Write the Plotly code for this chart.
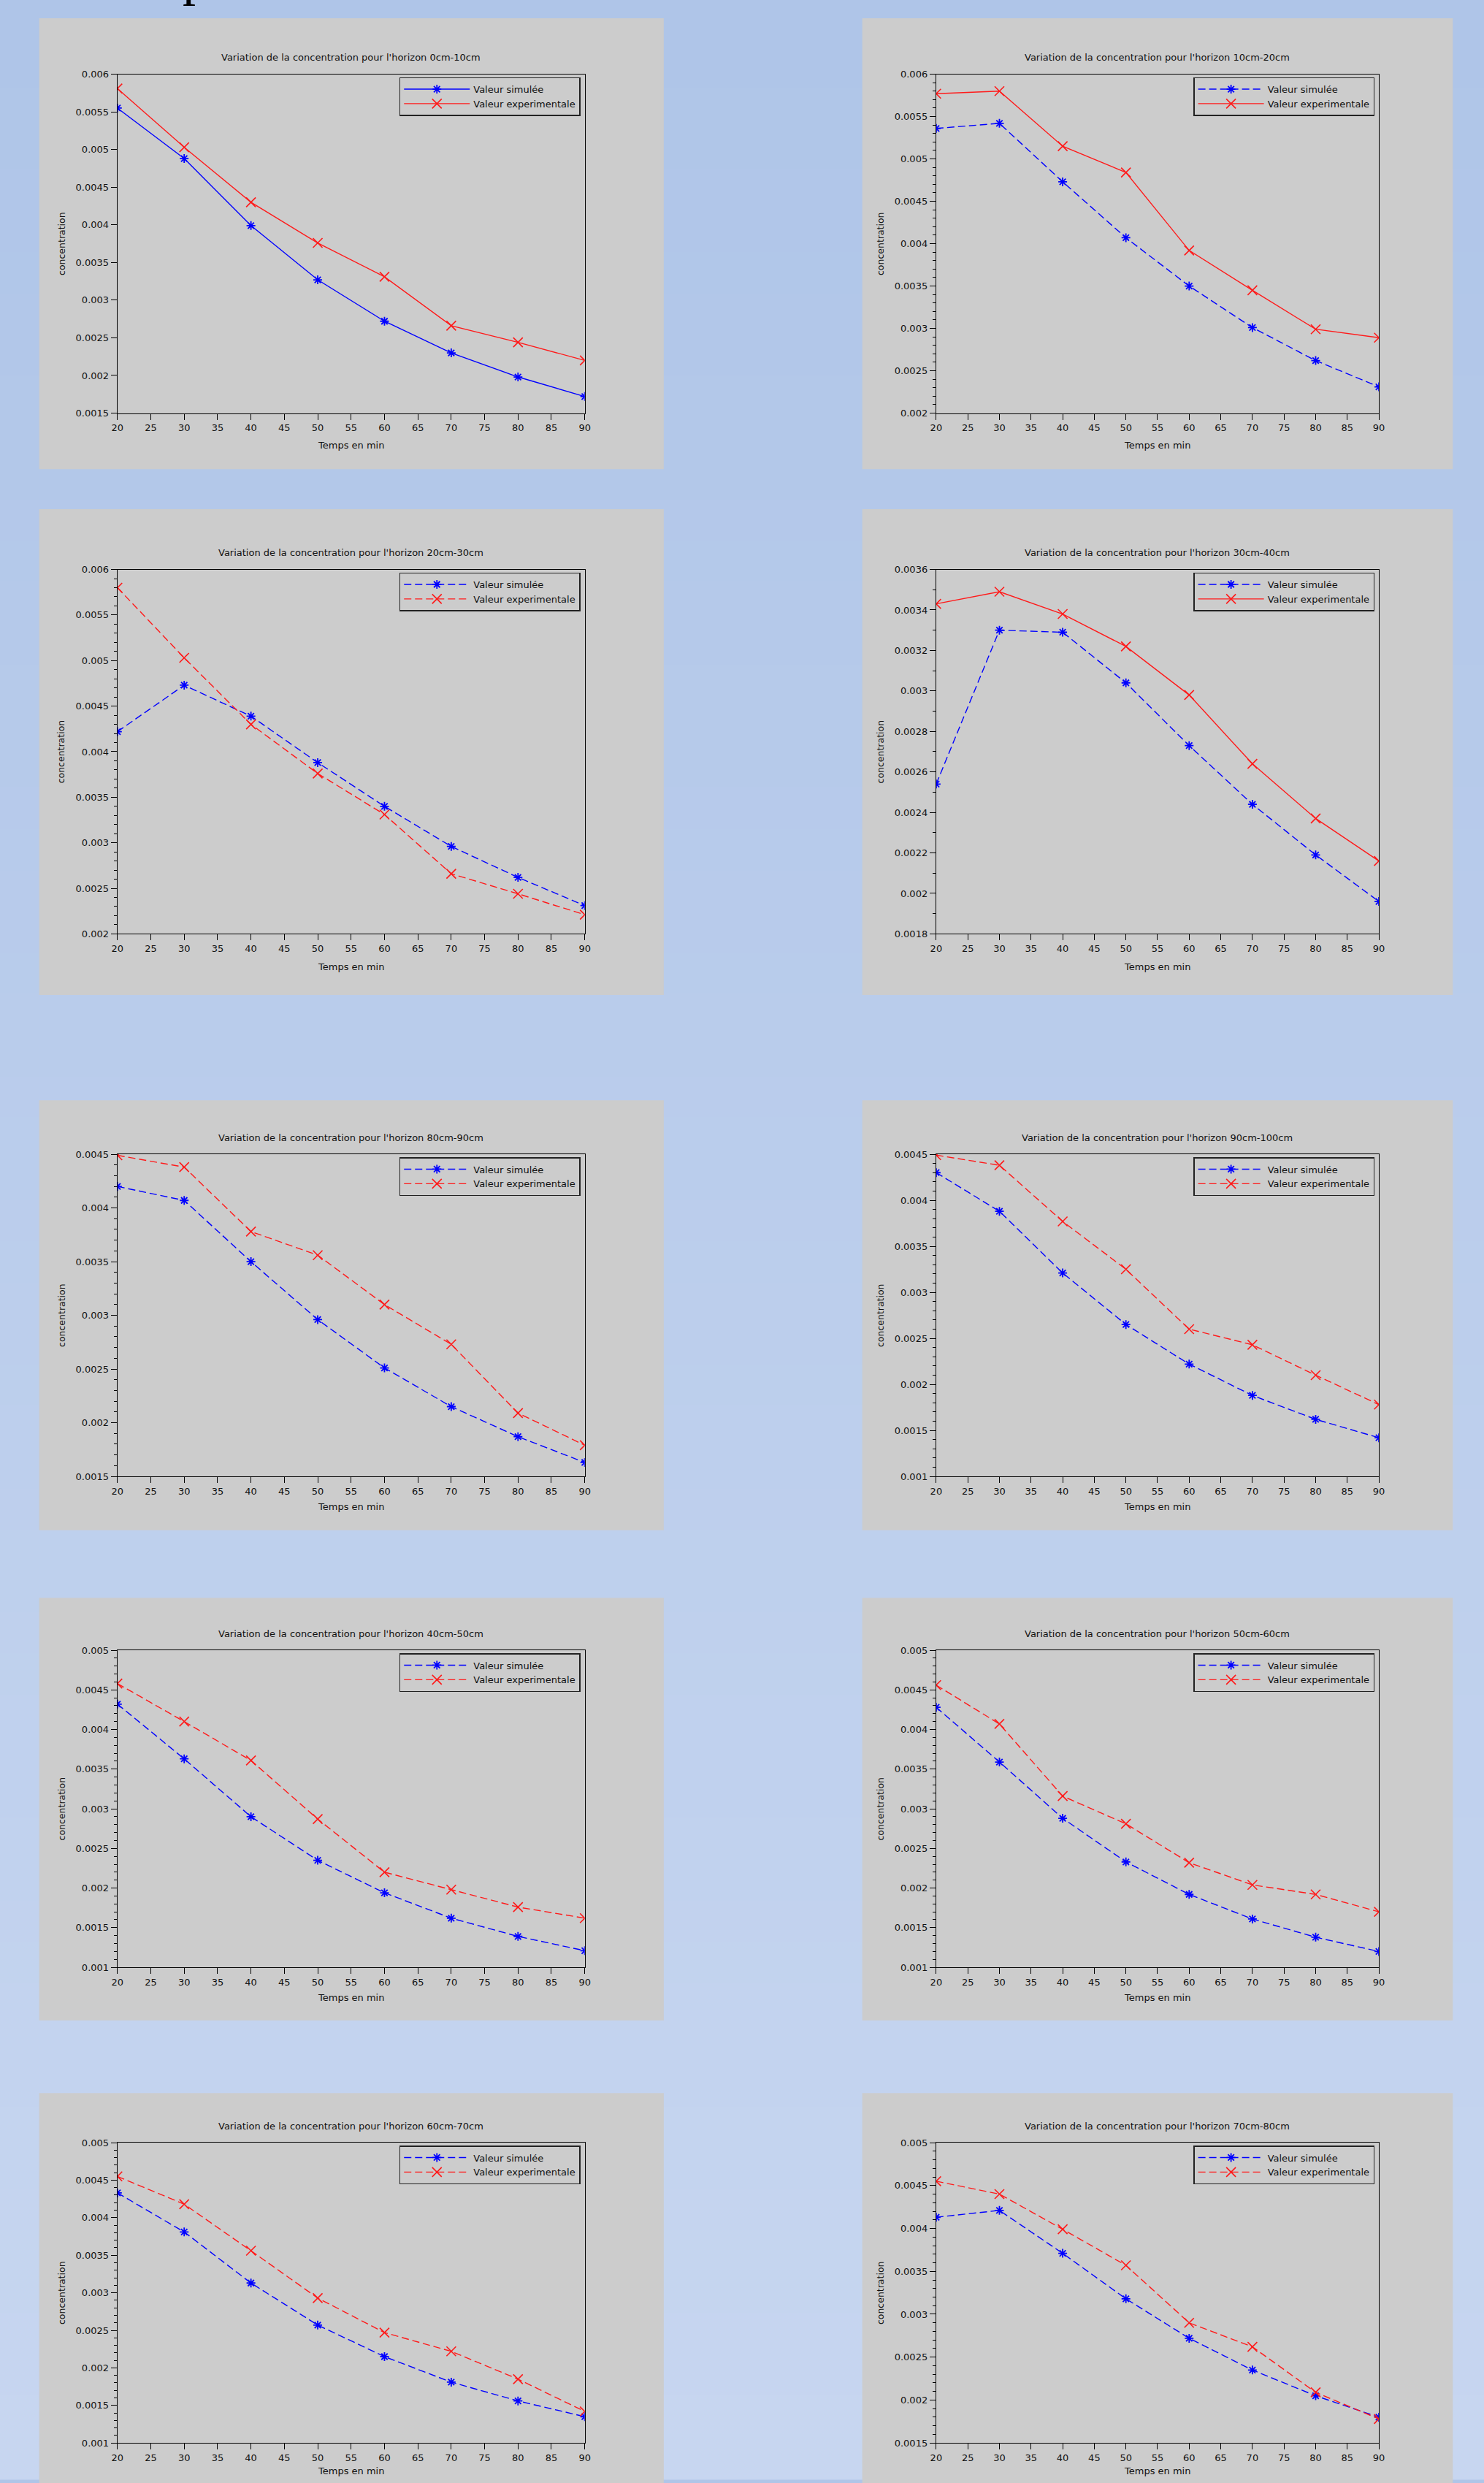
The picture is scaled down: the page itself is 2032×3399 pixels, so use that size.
import plotly.graph_objects as go

W, H = 2032, 3399

# ---------------- data ----------------
minutes = [20, 30, 40, 50, 60, 70, 80, 90]

horizons = ["0cm-10cm", "10cm-20cm", "20cm-30cm", "30cm-40cm", "80cm-90cm",
            "90cm-100cm", "40cm-50cm", "50cm-60cm", "60cm-70cm", "70cm-80cm"]

sim_0_10 = [0.00555, 0.00488, 0.00399, 0.00327, 0.00272, 0.00230, 0.00198, 0.00172]
exp_0_10 = [0.00581, 0.00503, 0.00430, 0.00376, 0.00331, 0.00266, 0.00244, 0.00220]

sim_10_20 = [0.00536, 0.00542, 0.00473, 0.00407, 0.00350, 0.00301, 0.00262, 0.00231]
exp_10_20 = [0.00577, 0.00580, 0.00515, 0.00484, 0.00392, 0.00345, 0.00299, 0.00289]

sim_20_30 = [0.00422, 0.00473, 0.00439, 0.00388, 0.00340, 0.00296, 0.00262, 0.00231]
exp_20_30 = [0.00580, 0.00503, 0.00430, 0.00376, 0.00331, 0.00266, 0.00244, 0.00221]

sim_30_40 = [0.00254, 0.00330, 0.00329, 0.00304, 0.00273, 0.00244, 0.00219, 0.00196]
exp_30_40 = [0.00343, 0.00349, 0.00338, 0.00322, 0.00298, 0.00264, 0.00237, 0.00216]

sim_80_90 = [0.00420, 0.00407, 0.00350, 0.00296, 0.00251, 0.00215, 0.00187, 0.00163]
exp_80_90 = [0.00449, 0.00438, 0.00378, 0.00356, 0.00310, 0.00273, 0.00209, 0.00179]

sim_90_100 = [0.00430, 0.00388, 0.00321, 0.00265, 0.00222, 0.00188, 0.00162, 0.00142]
exp_90_100 = [0.00449, 0.00438, 0.00377, 0.00325, 0.00260, 0.00243, 0.00210, 0.00178]

sim_40_50 = [0.00432, 0.00363, 0.00290, 0.00235, 0.00194, 0.00162, 0.00139, 0.00121]
exp_40_50 = [0.00458, 0.00410, 0.00361, 0.00287, 0.00220, 0.00198, 0.00176, 0.00162]

sim_50_60 = [0.00428, 0.00359, 0.00288, 0.00233, 0.00192, 0.00161, 0.00138, 0.00120]
exp_50_60 = [0.00456, 0.00407, 0.00316, 0.00281, 0.00232, 0.00204, 0.00192, 0.00170]

sim_60_70 = [0.00433, 0.00381, 0.00313, 0.00257, 0.00215, 0.00181, 0.00156, 0.00135]
exp_60_70 = [0.00455, 0.00418, 0.00356, 0.00293, 0.00247, 0.00222, 0.00185, 0.00142]

sim_70_80 = [0.00413, 0.00421, 0.00371, 0.00318, 0.00272, 0.00235, 0.00205, 0.00180]
exp_70_80 = [0.00455, 0.00440, 0.00399, 0.00357, 0.00290, 0.00262, 0.00209, 0.00178]

sim_series = [sim_0_10, sim_10_20, sim_20_30, sim_30_40, sim_80_90,
              sim_90_100, sim_40_50, sim_50_60, sim_60_70, sim_70_80]
exp_series = [exp_0_10, exp_10_20, exp_20_30, exp_30_40, exp_80_90,
              exp_90_100, exp_40_50, exp_50_60, exp_60_70, exp_70_80]

y_ranges = [(0.0015, 0.006), (0.002, 0.006), (0.002, 0.006), (0.0018, 0.0036), (0.0015, 0.0045),
            (0.001, 0.0045), (0.001, 0.005), (0.001, 0.005), (0.001, 0.005), (0.0015, 0.005)]
y_dticks = [0.0005, 0.0005, 0.0005, 0.0002, 0.0005, 0.0005, 0.0005, 0.0005, 0.0005, 0.0005]

series_names = ["Valeur simulée", "Valeur experimentale"]
title_prefix = "Variation de la concentration pour l'horizon "
x_title = "Temps en min"
y_title = "concentration"

# ---------------- layout / styles ----------------
minor_dticks = [None, 0.0001, 0.0001, 0.0001, 0.0001, 0.0001, 0.0001, 0.0001, 0.0001, 0.0001]
sim_dash = ["solid", "10px,5px", "10px,5px", "10px,5px", "10px,5px",
            "10px,5px", "10px,5px", "10px,5px", "10px,5px", "10px,5px"]
exp_dash = ["solid", "solid", "10px,5px", "solid", "10px,5px",
            "10px,5px", "10px,5px", "10px,5px", "10px,5px", "10px,5px"]

col_box_x = [(46, 908), (1182, 1997)]
col_plot_x = [(154, 799), (1284, 1895)]
row_box_y = [(18, 638), (693, 1361), (1506, 2097), (2190, 2771), (2871, 3420)]
row_plot_y = [(95, 561), (776, 1277), (1580, 2023), (2262, 2698), (2939, 3352)]
row_xtitle_y = [605, 1322, 2065, 2740, 3390]

FONT = "DejaVu Sans"
BLUE = "#0000ff"
RED = "#ff1a1a"
GRAY = "#cccccc"


def px(x):
    return x / W


def py(y):
    return 1 - y / H


fig = go.Figure()
shapes = []
annotations = []
layout_extra = {}

# background vertical gradient
top_c = (175, 197, 232)
bot_c = (199, 214, 240)
NB = 60
for j in range(NB):
    t = j / (NB - 1)
    c = tuple(round(top_c[i] + (bot_c[i] - top_c[i]) * t) for i in range(3))
    shapes.append(dict(type="rect", xref="paper", yref="paper", x0=-0.02, x1=1.02,
                       y0=1 - (j + 1) / NB - 0.001, y1=1 - j / NB + (0.02 if j == 0 else 0),
                       fillcolor="rgb(%d,%d,%d)" % c, line=dict(width=0), layer="below"))

for i in range(10):
    k = i + 1
    row, col = i // 2, i % 2
    xs = "" if k == 1 else str(k)
    xa, ya = "x" + xs, "y" + xs
    lg = "legend" + xs

    bx0, bx1 = col_box_x[col]
    by0, by1 = row_box_y[row]
    shapes.append(dict(type="rect", xref="paper", yref="paper",
                       x0=px(bx0), x1=px(bx1), y0=py(by1), y1=py(by0),
                       fillcolor=GRAY, line=dict(width=0), layer="below"))

    x0, x1 = col_plot_x[col]
    y0, y1 = row_plot_y[row]

    fig.add_trace(go.Scatter(
        x=minutes, y=sim_series[i], xaxis=xa, yaxis=ya, legend=lg,
        name=series_names[0], mode="lines+markers",
        line=dict(color=BLUE, width=1.4, dash=sim_dash[i]),
        marker=dict(symbol="asterisk-open", size=10, color=BLUE,
                    line=dict(color=BLUE, width=1.8))))
    fig.add_trace(go.Scatter(
        x=minutes, y=exp_series[i], xaxis=xa, yaxis=ya, legend=lg,
        name=series_names[1], mode="lines+markers",
        line=dict(color=RED, width=1.4, dash=exp_dash[i]),
        marker=dict(symbol="x-thin-open", size=13, color=RED,
                    line=dict(color=RED, width=1.6))))

    layout_extra["xaxis" + xs] = dict(
        domain=[px(x0), px(x1)], anchor=ya, range=[20, 90], tick0=0, dtick=5,
        ticks="outside", ticklen=8, tickwidth=1, tickcolor="black",
        showline=True, linecolor="black", linewidth=1.2, mirror=True,
        showgrid=False, zeroline=False,
        tickfont=dict(family=FONT, size=13, color="#111111"))
    yax = dict(
        domain=[py(y1), py(y0)], anchor=xa, range=list(y_ranges[i]),
        tick0=0, dtick=y_dticks[i], tickformat=".4~f",
        ticks="outside", ticklen=8, tickwidth=1, tickcolor="black",
        showline=True, linecolor="black", linewidth=1.2, mirror=True,
        showgrid=False, zeroline=False,
        tickfont=dict(family=FONT, size=13, color="#111111"))
    if minor_dticks[i] is not None:
        yax["minor"] = dict(dtick=minor_dticks[i], tick0=0, ticks="outside",
                            ticklen=4, tickcolor="black", showgrid=False)
    layout_extra["yaxis" + xs] = yax

    layout_extra[lg] = dict(
        x=px(x1 - 6), xanchor="right", y=py(y0 + 4), yanchor="top",
        bgcolor=GRAY, bordercolor="#222222", borderwidth=1.5,
        font=dict(family=FONT, size=13, color="#111111"),
        itemwidth=90, tracegroupgap=0)

    cx = (x0 + x1) / 2
    annotations.append(dict(text=title_prefix + horizons[i], xref="paper", yref="paper",
                            x=px(cx), y=py(y0 - 23), xanchor="center", yanchor="middle",
                            showarrow=False, font=dict(family=FONT, size=13, color="#111111")))
    annotations.append(dict(text=x_title, xref="paper", yref="paper",
                            x=px(cx), y=py(row_xtitle_y[row]), xanchor="center", yanchor="middle",
                            showarrow=False, font=dict(family=FONT, size=13, color="#111111")))
    annotations.append(dict(text=y_title, xref="paper", yref="paper",
                            x=px(x0 - 77), y=py((y0 + y1) / 2), xanchor="center", yanchor="middle",
                            textangle=-90, showarrow=False,
                            font=dict(family=FONT, size=12.5, color="#111111")))

# descender of a heading letter cut off at the top of the page
annotations.append(dict(text="p", xref="paper", yref="paper", x=px(262), y=py(4),
                        xanchor="center", yanchor="bottom", showarrow=False,
                        font=dict(family="Liberation Serif", size=72, color="black")))

fig.update_layout(
    width=W, height=H, margin=dict(l=0, r=0, t=0, b=0),
    paper_bgcolor="rgb(175,197,232)", plot_bgcolor=GRAY,
    showlegend=True, shapes=shapes, annotations=annotations,
    **layout_extra)

fig.write_html("out.html",
               config={"displayModeBar": False},
               post_script="document.body.style.margin='0';"
                           "document.body.style.overflow='hidden';")
